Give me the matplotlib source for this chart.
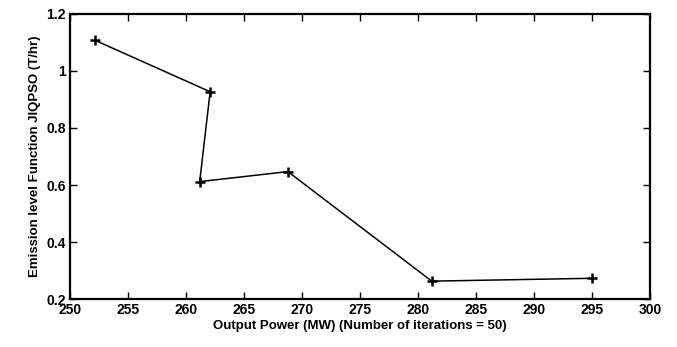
import matplotlib.pyplot as plt

power = [252.2, 262.1, 261.2, 268.8, 281.2, 295.0]
emission = [1.107, 0.927, 0.612, 0.647, 0.263, 0.273]
xticks = [250, 255, 260, 265, 270, 275, 280, 285, 290, 295, 300]
yticks = [0.2, 0.4, 0.6, 0.8, 1.0, 1.2]
ylabels = ['0.2', '0.4', '0.6', '0.8', '1', '1.2']

plt.rcParams['font.family'] = ['Liberation Sans', 'DejaVu Sans']

fig = plt.figure(figsize=(6.77, 3.47), dpi=100)
ax = fig.add_axes([0.103, 0.138, 0.857, 0.822])

ax.plot(power, emission, color='black', lw=1.1, marker='+', ms=7, mew=1.8)

ax.set_xlim(250, 300)
ax.set_ylim(0.2, 1.2)
ax.set_xticks(xticks)
ax.set_yticks(yticks)
ax.set_yticklabels(ylabels)
ax.tick_params(direction='in', top=True, right=True, length=5, width=1,
               labelsize=10, pad=3)
for lab in ax.get_xticklabels() + ax.get_yticklabels():
    lab.set_fontweight('bold')
for s in ax.spines.values():
    s.set_linewidth(1.6)

ax.set_xlabel('Output Power (MW) (Number of iterations = 50)', fontsize=9.5,
              fontweight='bold', labelpad=2)
ax.set_ylabel('Emission level Function JIQPSO (T/hr)', fontsize=9.5,
              fontweight='bold', labelpad=4)

fig.savefig('out.png', dpi=100)
